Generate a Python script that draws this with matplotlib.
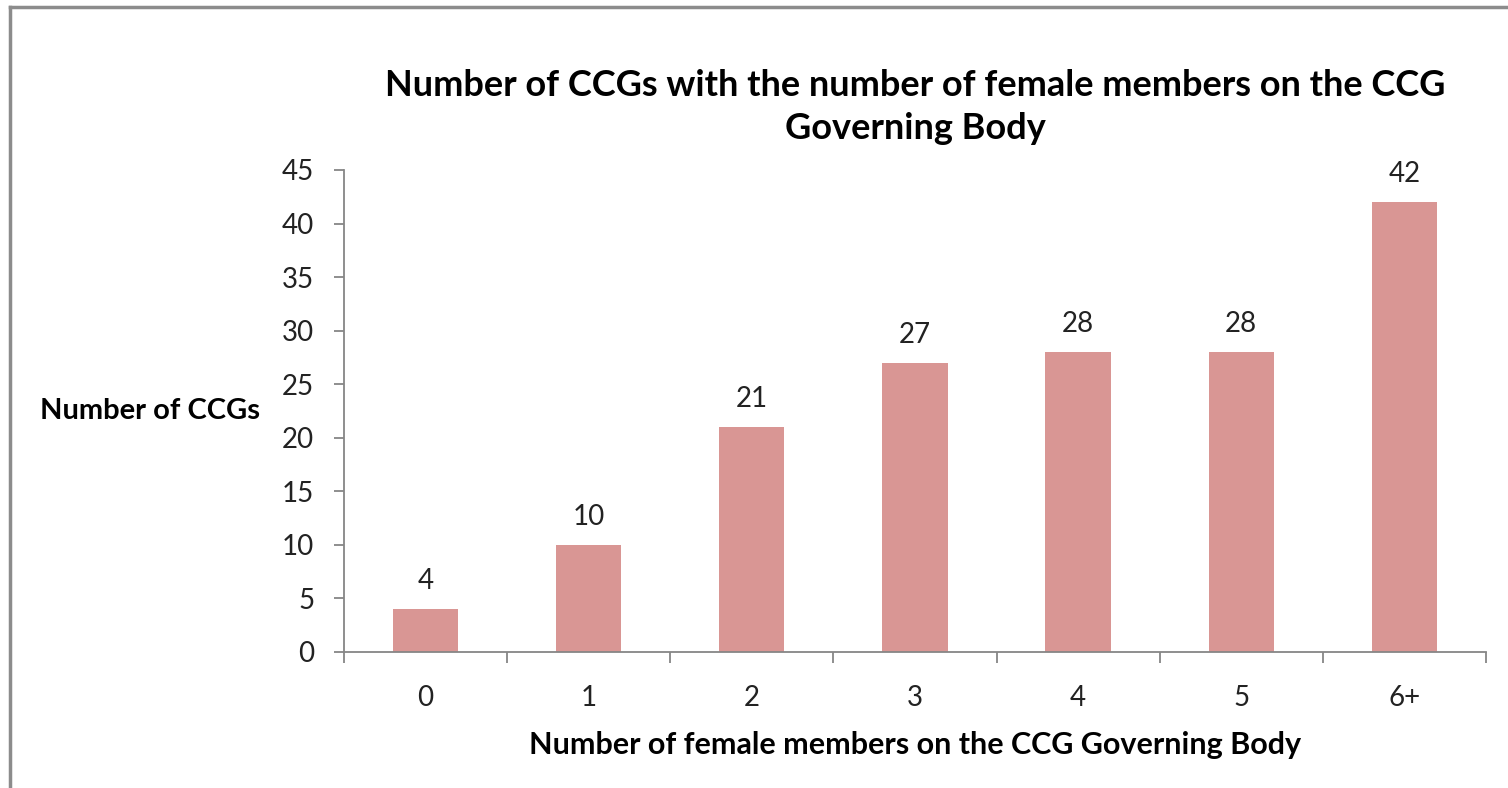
import matplotlib
matplotlib.use("Agg")
import matplotlib.pyplot as plt
from matplotlib.lines import Line2D

categories = ["0", "1", "2", "3", "4", "5", "6+"]
values = [4, 10, 21, 27, 28, 28, 42]
yticks = [0, 5, 10, 15, 20, 25, 30, 35, 40, 45]

title = "Number of CCGs with the number of female members on the CCG\nGoverning Body"
xlabel = "Number of female members on the CCG Governing Body"
ylabel = "Number of CCGs"

plt.rcParams['font.family'] = ['Lato', 'DejaVu Sans']

fig = plt.figure(figsize=(15.08, 7.88), dpi=100)
ax = fig.add_axes([0.2281, 0.1726, 0.7573, 0.6117])

x = list(range(len(categories)))
ax.bar(x, values, width=0.4, color="#D99694", edgecolor="none")
for xi, v in zip(x, values):
    ax.annotate(str(v), (xi, v), xytext=(0, 11), textcoords="offset points",
                ha="center", va="bottom", fontsize=20, color="#222222")

ax.set_xlim(-0.5, len(categories) - 0.5)
ax.set_ylim(0, 45)
ax.set_yticks(yticks)
ax.set_xticks(x)
ax.set_xticklabels(categories)
ax.set_xticks([i - 0.5 for i in range(len(categories) + 1)], minor=True)

for s in ["top", "right"]:
    ax.spines[s].set_visible(False)
for s in ["left", "bottom"]:
    ax.spines[s].set_color("#868686")
    ax.spines[s].set_linewidth(1.3)

ax.tick_params(axis="y", length=7.5, width=1.3, color="#868686", labelsize=20, pad=14, labelcolor="#222222")
ax.tick_params(axis="x", which="major", length=0, labelsize=20, pad=24, labelcolor="#222222")
ax.tick_params(axis="x", which="minor", length=8, width=1.3, color="#868686")

ax.set_title(title, fontsize=26, fontweight="bold", pad=22, linespacing=1.4)
ax.set_xlabel(xlabel, fontsize=22, fontweight="bold", labelpad=14)
ax.set_ylabel(ylabel, fontsize=21, fontweight="bold", rotation=0, ha="left", va="center")
ax.yaxis.set_label_coords(-0.266, 0.5)

fig.add_artist(Line2D([0.0066, 0.0066], [0, 0.991], transform=fig.transFigure, color="#8c8c8c", lw=2.5))
fig.add_artist(Line2D([0.0066, 1.0], [0.991, 0.991], transform=fig.transFigure, color="#8c8c8c", lw=2.5))

fig.savefig("out.png", dpi=100)
